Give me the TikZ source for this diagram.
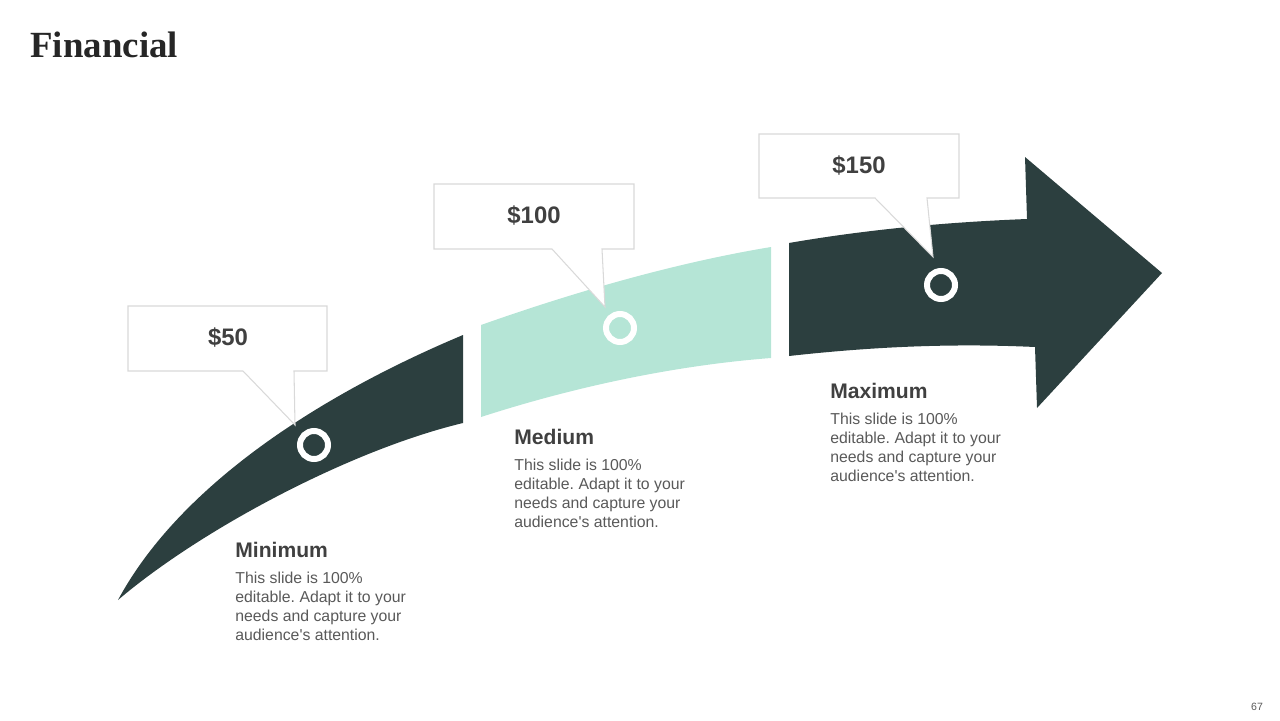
\documentclass[tikz,border=0pt]{standalone}
\usepackage{fontspec}
\setmainfont{Liberation Sans}
\newfontfamily\titlefont{Liberation Serif}
\frenchspacing
\definecolor{darkarrow}{HTML}{2C3F3F}
\definecolor{mintarrow}{HTML}{B5E5D6}
\definecolor{boxline}{HTML}{D9D9D9}
\definecolor{headtext}{HTML}{404040}
\definecolor{bodytext}{HTML}{595959}
\tikzset{
  callout/.style={fill=white, draw=boxline, line width=0.6pt, line join=miter},
  ring/.style={circle, draw=white, line width=0.12cm, minimum size=0.56cm, inner sep=0pt},
  price/.style={font=\bfseries\fontsize{13.6}{16}\selectfont, text=headtext, inner sep=0pt},
  headlabel/.style={font=\bfseries\fontsize{12}{14}\selectfont, text=headtext, inner sep=0pt, anchor=base west},
  bodylabel/.style={font=\frenchspacing\fontsize{9}{10.8}\selectfont, text=bodytext, inner sep=0pt, anchor=base west, align=left},
}
\begin{document}
\begin{tikzpicture}[x=0.02cm,y=-0.02cm]
\useasboundingbox (0,0) rectangle (1280,720);
% title
\node[font=\titlefont\bfseries\fontsize{21}{25}\selectfont, text=black!85, anchor=base west, inner sep=0pt] (title) at (30,57) {Financial};
% arrow segment 1
\fill[darkarrow] (118,600) .. controls (180,485) and (320,395) .. (463,335)
  -- (463,423) .. controls (350,450) and (200,530) .. (118,600) -- cycle;
% arrow segment 2
\fill[mintarrow] (481,325) .. controls (580,290) and (680,262) .. (771,247)
  -- (771,358) .. controls (680,365) and (580,385) .. (481,417) -- cycle;
% arrow segment 3 with head
\fill[darkarrow] (789,243) .. controls (870,229) and (950,222) .. (1027,219)
  -- (1025,157) -- (1162,273) -- (1037,408) -- (1035,347)
  .. controls (950,343) and (870,347) .. (789,356) -- cycle;
% rings
\node[ring] (r1) at (314,445) {};
\node[ring] (r2) at (620,328) {};
\node[ring] (r3) at (941,285) {};
% callouts
\draw[callout] (128,306) -- (327,306) -- (327,371) -- (294,371) -- (295,425) -- (243,371) -- (128,371) -- cycle;
\draw[callout] (434,184) -- (634,184) -- (634,249) -- (602,249) -- (605,307) -- (552,249) -- (434,249) -- cycle;
\draw[callout] (759,134) -- (959,134) -- (959,198) -- (927,198) -- (933,257) -- (875,198) -- (759,198) -- cycle;
\node[price] (p1) at (228,338) {\$50};
\node[price] (p2) at (534,216) {\$100};
\node[price] (p3) at (859,166) {\$150};
% labels
\node[headlabel] (h1) at (235,557) {Minimum};
\node[bodylabel] (b1) at (235,640) {This slide is 100\%\\editable. Adapt it to your\\needs and capture your\\audience\textquotesingle s attention.};
\node[headlabel] (h2) at (514,444) {Medium};
\node[bodylabel] (b2) at (514,527) {This slide is 100\%\\editable. Adapt it to your\\needs and capture your\\audience\textquotesingle s attention.};
\node[headlabel] (h3) at (830,398) {Maximum};
\node[bodylabel] (b3) at (830,481) {This slide is 100\%\\editable. Adapt it to your\\needs and capture your\\audience\textquotesingle s attention.};
% page number
\node[font=\fontsize{6}{7}\selectfont, text=bodytext, inner sep=0pt] (pg) at (1257,707) {67};
\end{tikzpicture}
\end{document}
